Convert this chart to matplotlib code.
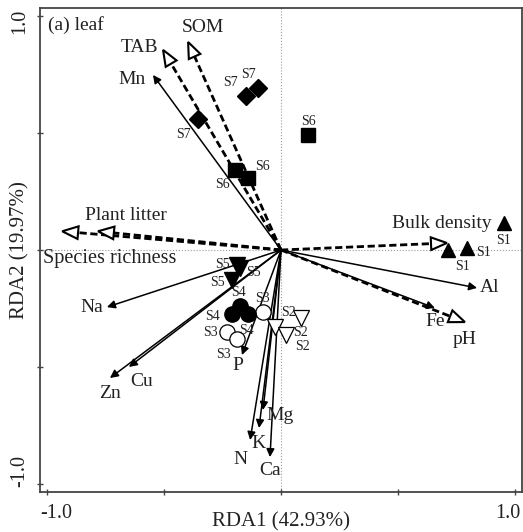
import matplotlib
matplotlib.use("Agg")
import matplotlib.pyplot as plt
from matplotlib.patches import Polygon
import numpy as np

# ---------------- data ----------------
env_names = ['SOM', 'TAB', 'Plant litter', 'Species richness', 'Bulk density', 'pH']
env_x = [-0.397, -0.504, -0.782, -0.935, 0.709, 0.786]
env_y = [0.889, 0.855, 0.080, 0.080, 0.030, -0.308]

leaf_names = ['Mn', 'Na', 'Zn', 'Cu', 'Al', 'Fe', 'P', 'Mg', 'K', 'N', 'Ca']
leaf_x = [-0.547, -0.744, -0.731, -0.650, 0.838, 0.658, -0.167, -0.077, -0.094, -0.132, -0.047]
leaf_y = [0.748, -0.244, -0.547, -0.500, -0.162, -0.248, -0.449, -0.684, -0.761, -0.812, -0.885]

site_names = ['S1', 'S2', 'S3', 'S4', 'S5', 'S6', 'S7']
s1_x = [0.953, 0.714, 0.795]; s1_y = [0.115, 0.000, 0.009]
s2_x = [0.085, -0.026, 0.021]; s2_y = [-0.291, -0.329, -0.363]
s3_x = [-0.077, -0.231, -0.188]; s3_y = [-0.265, -0.350, -0.380]
s4_x = [-0.209, -0.175, -0.141]; s4_y = [-0.274, -0.239, -0.274]
s5_x = [-0.188, -0.175, -0.209]; s5_y = [-0.064, -0.077, -0.128]
s6_x = [-0.197, -0.141, 0.115]; s6_y = [0.342, 0.308, 0.491]
s7_x = [-0.355, -0.150, -0.098]; s7_y = [0.560, 0.658, 0.692]

x_label = 'RDA1 (42.93%)'
y_label = 'RDA2 (19.97%)'
panel_title = '(a) leaf'

# ---------------- layout helpers (pixel -> data) ----------------
W, H = 523, 532
X0, Y0, S = 281.0, 250.0, 234.0
def P(px, py):
    return ((px - X0) / S, (Y0 - py) / S)

plt.rcParams['font.family'] = ['Liberation Serif', 'DejaVu Serif']
TXT = '#222222'

fig = plt.figure(figsize=(W / 100, H / 100), dpi=100)
ax_l, ax_r, ax_t, ax_b = 40, 521.7, 8.3, 491.7
ax = fig.add_axes([ax_l / W, 1 - ax_b / H, (ax_r - ax_l) / W, (ax_b - ax_t) / H])
xl = ((ax_l - X0) / S, (ax_r - X0) / S)
yl = ((Y0 - ax_b) / S, (Y0 - ax_t) / S)
ax.set_xlim(*xl)
ax.set_ylim(*yl)

for sp in ax.spines.values():
    sp.set_color('#444444')
    sp.set_linewidth(1.3)

ax.set_xticks([-1, -0.5, 0, 0.5, 1])
ax.set_yticks([-1, -0.5, 0, 0.5, 1])
ax.set_xticklabels([])
ax.set_yticklabels([])
ax.tick_params(direction='inout', length=5, width=1, color='#444444')

# zero lines
ax.axhline(0, color='#999999', lw=0.8, ls=':', zorder=0)
ax.axvline(0, color='#999999', lw=0.8, ls=':', zorder=0)

# ---------------- dashed env arrows with open heads ----------------
head_len, head_hw = 0.068, 0.027
for name, x, y in zip(env_names, env_x, env_y):
    v = np.array([x, y]); L = np.hypot(x, y); u = v / L
    n = np.array([-u[1], u[0]])
    base = v - u * head_len
    ax.plot([0, base[0]], [0, base[1]], color='black', lw=2.0,
            dashes=(2.6, 1.3), zorder=3, solid_capstyle='butt', dash_capstyle='butt')
    tri = Polygon([v, base + n * head_hw, base - n * head_hw], closed=True,
                  facecolor='white', edgecolor='black', lw=1.5, zorder=4)
    ax.add_patch(tri)

# ---------------- solid leaf arrows ----------------
for name, x, y in zip(leaf_names, leaf_x, leaf_y):
    ax.annotate('', xy=(x, y), xytext=(0, 0),
                arrowprops=dict(arrowstyle='-|>', color='black', lw=1.1,
                                mutation_scale=12, shrinkA=0, shrinkB=0),
                zorder=3)

# ---------------- sites ----------------
ms = 10
ax.plot(s1_x, s1_y, '^', color='black', ms=ms, ls='none', zorder=5)
ax.plot(s2_x, s2_y, 'v', mfc='white', mec='black', mew=0.9, ms=ms + 1, ls='none', zorder=5)
ax.plot(s3_x, s3_y, 'o', mfc='white', mec='black', mew=0.9, ms=ms + 1, ls='none', zorder=5)
ax.plot(s4_x, s4_y, 'o', color='black', ms=ms + 1, ls='none', zorder=5)
ax.plot(s5_x, s5_y, 'v', color='black', ms=ms + 1, ls='none', zorder=5)
ax.plot(s6_x, s6_y, 's', color='black', ms=ms, ls='none', zorder=5)
ax.plot(s7_x, s7_y, 'D', color='black', ms=ms - 1, ls='none', zorder=5)

# site labels (pixel positions)
site_label_px = {
    'S1': [(503, 240), (462, 267), (483, 253)],
    'S2': [(288, 312), (300, 333), (302, 347)],
    'S3': [(262, 299), (210, 333), (223, 355)],
    'S4': [(238, 293), (213, 317), (247, 330)],
    'S5': [(222, 265), (253, 273), (217, 282)],
    'S6': [(262, 166), (222, 185), (308, 122)],
    'S7': [(183, 134), (230, 83), (248, 74)],
}
for nm in site_names:
    for px, py in site_label_px[nm]:
        ax.text(*P(px, py), nm, fontsize=10, ha='center', va='center', color=TXT, zorder=6)

# arrow labels (pixel positions)
lab_px = {
    'SOM': (203, 28), 'TAB': (140, 48), 'Mn': (132, 80),
    'Plant litter': (126, 215), 'Species richness': (110, 258),
    'Bulk density': (442, 223), 'Al': (490, 288), 'Fe': (435, 322), 'pH': (465, 340),
    'Na': (92, 307), 'Zn': (110, 393), 'Cu': (142, 381), 'P': (238, 366),
    'Mg': (280, 415), 'K': (258, 443), 'N': (240, 459), 'Ca': (270, 470),
}
for nm, (px, py) in lab_px.items():
    fs = 14.6 if nm == 'Species richness' else 14
    ax.text(*P(px, py), nm, fontsize=fs, ha='center', va='center', color=TXT, zorder=6)

ax.text(*P(48, 25), panel_title, fontsize=14, ha='left', va='center', color=TXT)

# tick labels & axis labels as figure text (pixel positions)
def ft(px, py, s, **kw):
    fig.text(px / W, 1 - py / H, s, color=TXT, **kw)

ft(56, 513, '-1.0', fontsize=14.5, ha='center', va='center')
ft(508, 513, '1.0', fontsize=14.5, ha='center', va='center')
ft(20, 21, '1.0', fontsize=14.5, ha='center', va='center', rotation=90)
ft(20, 471, '-1.0', fontsize=14.5, ha='center', va='center', rotation=90)
ft(281, 522, x_label, fontsize=15, ha='center', va='center')
ft(20, 250, y_label, fontsize=15, ha='center', va='center', rotation=90)

fig.savefig('out.png', dpi=100)
